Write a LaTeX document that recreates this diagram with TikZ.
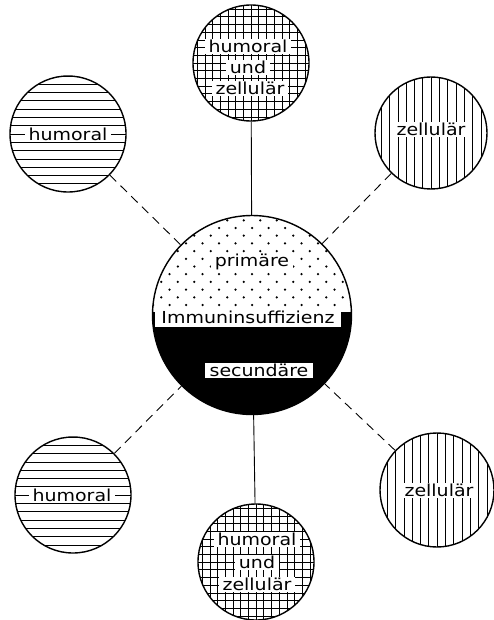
\documentclass[tikz,border=0pt]{standalone}
\usepackage{fontspec}
\setmainfont{DejaVu Sans}[FakeStretch=1.15]
\begin{document}
\begin{tikzpicture}[x=1pt,y=-1pt,
  ring/.style={circle, draw, line width=1.4pt, inner sep=0pt},
  hl/.style={line width=0.6pt},
  hatchH/.style={path picture={\foreach \k in {-8,...,8}{\draw[hl] ([yshift=\k*8.3pt]path picture bounding box.west) -- ([yshift=\k*8.3pt]path picture bounding box.east);}}},
  hatchV/.style={path picture={\foreach \k in {-8,...,8}{\draw[hl] ([xshift=\k*8.3pt]path picture bounding box.south) -- ([xshift=\k*8.3pt]path picture bounding box.north);}}},
  hatchG/.style={path picture={\foreach \k in {-9,...,9}{\draw[hl] ([yshift=\k*7.7pt]path picture bounding box.west) -- ([yshift=\k*7.7pt]path picture bounding box.east);
      \draw[hl] ([xshift=\k*7.7pt]path picture bounding box.south) -- ([xshift=\k*7.7pt]path picture bounding box.north);}}},
  centre/.style={path picture={
      \fill[black] ([yshift=3pt]path picture bounding box.west) rectangle (path picture bounding box.south east);
      \foreach \j in {0,...,12}{\foreach \i in {-7,...,7}{
        \pgfmathsetmacro\xx{\i*16.5+mod(\j,2)*8.25}
        \pgfmathsetmacro\yy{10+\j*7.7}
        \fill ([shift={(\xx pt,\yy pt)}]path picture bounding box.center) circle (1.25pt);}}}},
  lab/.style={fill=white, inner xsep=4pt, inner ysep=1.5pt, text height=12pt, text depth=0pt, font=\fontsize{16.5}{18}\selectfont},
  conn/.style={line width=0.9pt},
  dconn/.style={line width=0.9pt, dash pattern=on 9pt off 6pt}
]
\useasboundingbox (0,0) rectangle (493,620);
\fill[white] (0,0) rectangle (493,620);

% nodes
\node[ring, centre, minimum size=199pt] (c) at (252,315) {};
\node[ring, hatchG, minimum size=116pt] (t) at (251,63) {};
\node[ring, hatchH, minimum size=116pt] (tl) at (68,134) {};
\node[ring, hatchV, minimum size=112pt] (tr) at (431,133) {};
\node[ring, hatchH, minimum size=116pt] (bl) at (73,495) {};
\node[ring, hatchV, minimum size=114pt] (br) at (437,490) {};
\node[ring, hatchG, minimum size=116pt] (b) at (256,562) {};

% labels
\node[lab] (lt1) at (248,47) {humoral};
\node[lab] (lt2) at (248,68) {und};
\node[lab] (lt3) at (250,89) {zellulär};
\node[lab] (ltl) at (68,135) {humoral};
\node[lab] (ltr) at (431,130) {zellulär};
\node[lab] (lbl) at (72,495) {humoral};
\node[lab] (lbr) at (439,490) {zellulär};
\node[lab] (lb1) at (257,539) {humoral};
\node[lab] (lb2) at (257,562) {und};
\node[lab] (lb3) at (257,584) {zellulär};

\node[lab, text depth=3pt] (lp) at (252,262) {primäre};
\node[lab, minimum height=19pt, inner xsep=6pt] (li) at (248,317) {Immuninsuffizienz};
\node[lab, inner xsep=5pt] (ls) at (259,370) {secundäre};

% connectors
\draw[conn] (t) -- (c);
\draw[conn] (c) -- (b);
\draw[dconn] (tl) -- (c);
\draw[dconn] (tr) -- (c);
\draw[dconn] (bl) -- (c);
\draw[dconn] (br) -- (c);
\end{tikzpicture}
\end{document}
